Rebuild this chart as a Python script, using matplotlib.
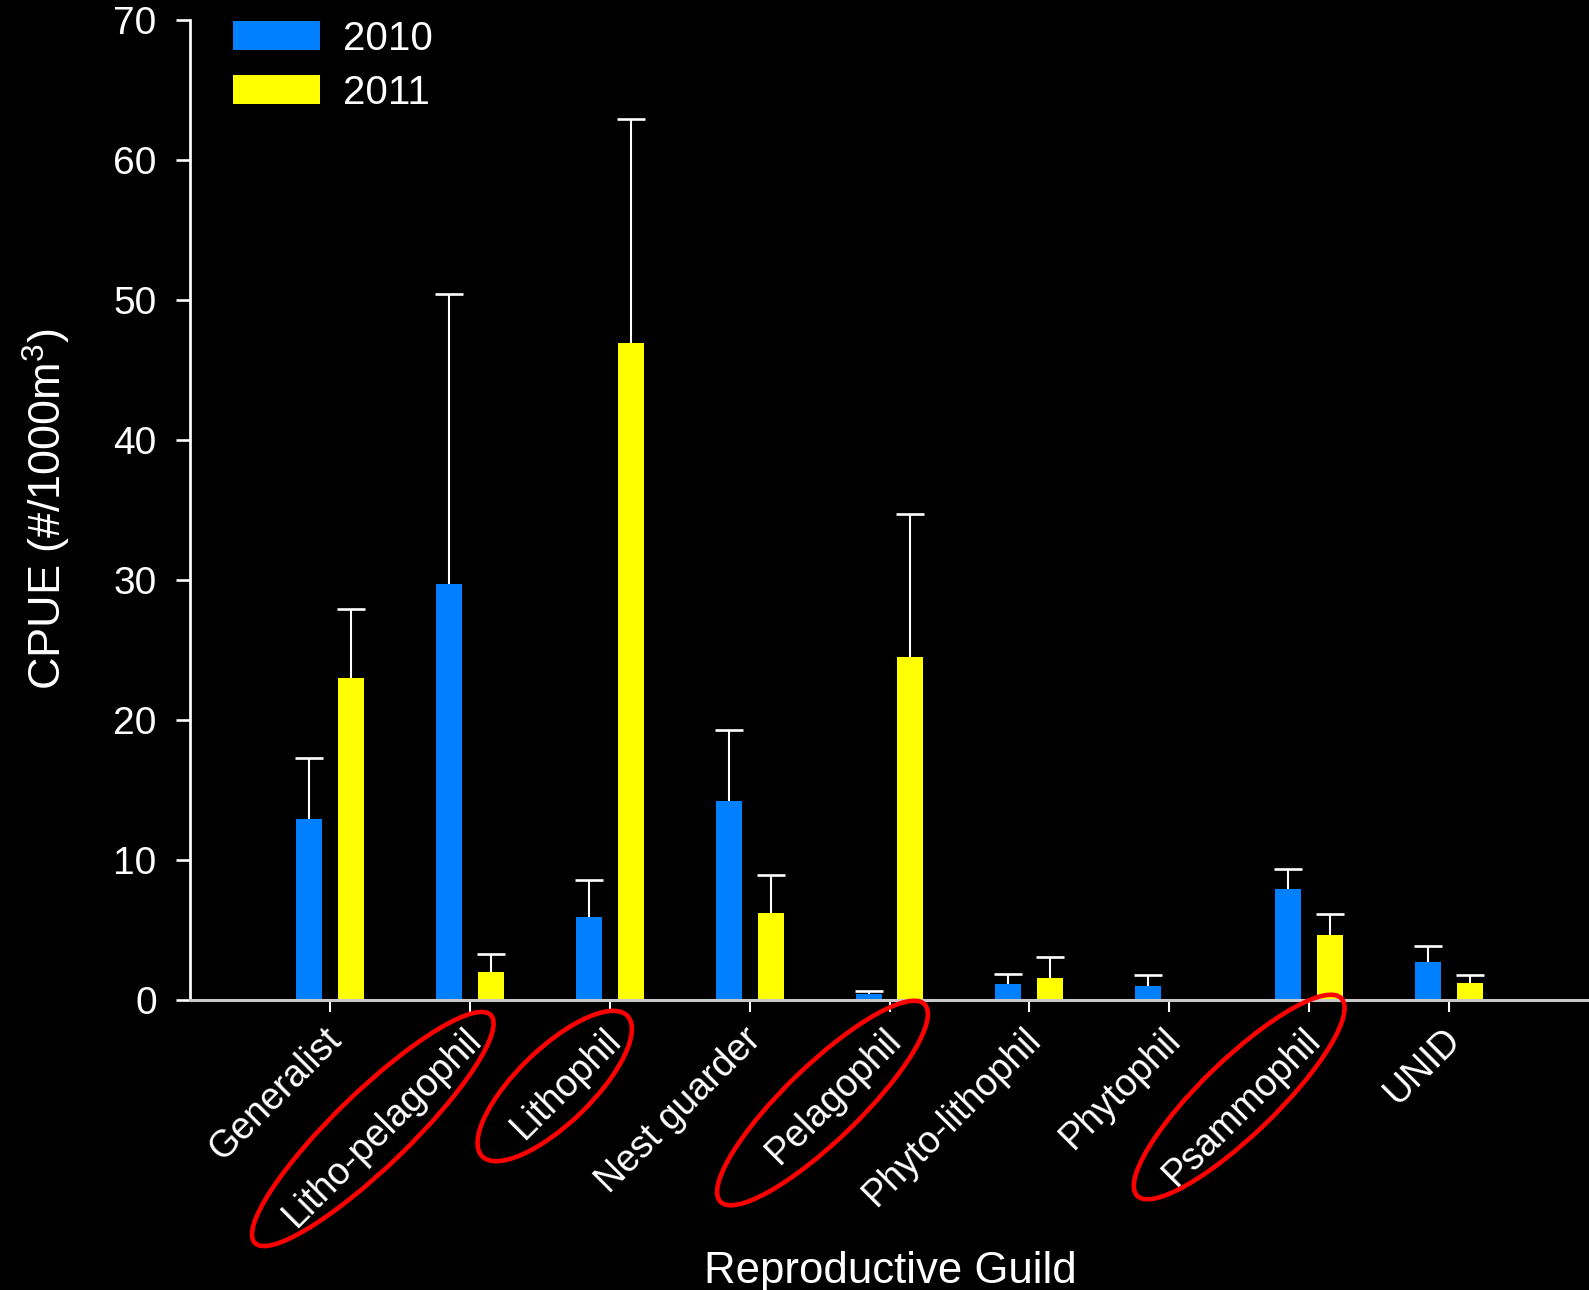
import matplotlib.pyplot as plt
import numpy as np
from matplotlib.patches import Ellipse
from matplotlib.transforms import IdentityTransform, ScaledTranslation

plt.rcParams['font.family'] = ['Liberation Sans', 'DejaVu Sans']
plt.rcParams['mathtext.fontset'] = 'custom'
plt.rcParams['mathtext.rm'] = 'Liberation Sans'
plt.rcParams['mathtext.it'] = 'Liberation Sans:italic'

guilds = ['Generalist', 'Litho-pelagophil', 'Lithophil', 'Nest guarder', 'Pelagophil',
          'Phyto-lithophil', 'Phytophil', 'Psammophil', 'UNID']
cpue_2010 = [12.9, 29.7, 5.9, 14.2, 0.45, 1.15, 1.0, 7.95, 2.7]
cpue_2011 = [23.0, 2.0, 46.9, 6.2, 24.5, 1.57, np.nan, 4.65, 1.2]
err_2010 = [4.4, 20.7, 2.65, 5.1, 0.2, 0.7, 0.8, 1.4, 1.15]
err_2011 = [4.9, 1.3, 16.0, 2.75, 10.2, 1.5, np.nan, 1.5, 0.55]
years = ['2010', '2011']

# guilds ringed in red: (name, major px, minor px, offset from tick in px)
circled = [
    ('Litho-pelagophil', 328, 75, (-97, -129)),
    ('Lithophil', 202, 75, (-55, -86)),
    ('Pelagophil', 284, 75, (-67, -103)),
    ('Psammophil', 284, 75, (-70, -97)),
]

BLUE = '#0080ff'
YELLOW = '#ffff00'
DPI = 100

fig = plt.figure(figsize=(15.89, 12.90), dpi=DPI, facecolor='black')
ax = fig.add_axes([190 / 1589, 290 / 1290, 1399 / 1589, 980.5 / 1290], facecolor='black')

x = np.arange(1, len(guilds) + 1)
width = 0.186
shift = 0.15

bars = []
for vals, errs, color, dx in [(cpue_2010, err_2010, BLUE, -shift),
                              (cpue_2011, err_2011, YELLOW, shift)]:
    vals = np.asarray(vals, dtype=float)
    errs = np.asarray(errs, dtype=float)
    bars.append(ax.bar(x + dx, vals, width, color=color, zorder=1))
    # upper error only
    _, caps, _ = ax.errorbar(x + dx, vals, yerr=[np.zeros_like(errs), errs], fmt='none',
                             ecolor='white', elinewidth=1.5, capsize=10, capthick=1.9, zorder=2)
    caps[0].set_visible(False)

ax.set_xlim(0, 10)
ax.set_ylim(0, 70)
ax.set_yticks(np.arange(0, 71, 10))
ax.set_xticks(x)
ax.set_xticklabels(guilds, rotation=45, ha='right', va='center', rotation_mode='anchor')

for side in ['top', 'right']:
    ax.spines[side].set_visible(False)
ax.spines['left'].set_color('white')
ax.spines['left'].set_linewidth(1.95)
ax.spines['bottom'].set_color('#c8c8c8')
ax.spines['bottom'].set_linewidth(2.2)
ax.spines['bottom'].set_zorder(3)

ax.tick_params(axis='y', colors='white', length=10, width=1.9, pad=14, labelsize=28)
ax.tick_params(axis='x', colors='white', length=8.6, width=1.5, pad=16, labelsize=27)
for lab in ax.get_xticklabels():
    lab.set_transform(lab.get_transform() + ScaledTranslation(0.06, 0, fig.dpi_scale_trans))

leg = ax.legend([b for b in bars], years, loc='upper left', bbox_to_anchor=(0.0307, 1.0),
                frameon=False, fontsize=29, handlelength=2.16, handleheight=0.72,
                handletextpad=0.57, labelspacing=0.4, borderpad=0, borderaxespad=0)
for t in leg.get_texts():
    t.set_color('white')

fig.text(47 / 1589, 1 - 509 / 1290, 'CPUE (#/1000m$^{3}$)', rotation=90,
         ha='center', va='center', fontsize=32.5, color='white')
fig.text(890 / 1589, 7 / 1290, 'Reproductive Guild', ha='center', va='baseline',
         fontsize=31.5, color='white')

# red rings around the highlighted guild labels
for name, major, minor, (ox, oy) in circled:
    cx, cy = ax.transData.transform((x[guilds.index(name)], 0))
    ring = Ellipse((cx + ox, cy + oy), major, minor, angle=44, transform=IdentityTransform(),
                   fill=False, edgecolor='red', linewidth=3.3)
    fig.add_artist(ring)

fig.savefig('out.png', dpi=DPI, facecolor='black')
